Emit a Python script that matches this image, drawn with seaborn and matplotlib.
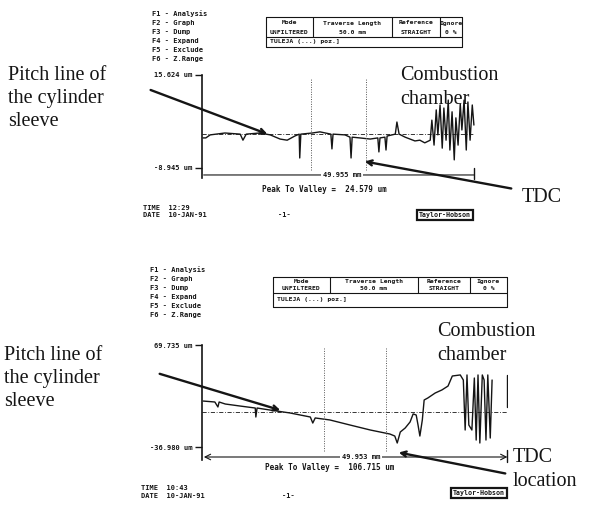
import numpy as np
import pandas as pd
import matplotlib.pyplot as plt
import seaborn as sns
from matplotlib.patches import FancyArrowPatch
from matplotlib.lines import Line2D

sns.set_style("white")
plt.rcParams['font.family'] = ['DejaVu Sans Mono']

W, H = 595, 514

# --- data (position mm, height um) ---
top_mm = [0.2, 0.7, 1.5, 4.2, 7.0, 7.5, 8.1, 10.6, 12.5, 14.3, 15.6, 17.0, 17.8, 17.9, 18.1,
          20.2, 21.6, 23.6, 23.8, 24.0, 26.2, 27.1, 27.3, 27.5, 28.9, 30.8, 32.2, 32.4, 32.6,
          33.5, 33.7, 33.9, 35.4, 35.7, 36.1, 37.2, 38.1, 39.0, 39.9, 40.8, 41.8, 42.1, 42.5,
          42.9, 43.2, 43.6, 44.0, 44.3, 44.7, 45.1, 45.4, 45.8, 46.2, 46.5, 46.9, 47.3, 47.6,
          48.0, 48.4, 48.7, 49.1, 49.5, 49.8]
top_um = [-1.0, -1.0, -0.2, 0.3, 0.0, -1.6, 0.0, 0.3, -0.2, -1.3, -1.6, -0.5, 0.0, -6.3, 0.0,
          0.3, 0.6, 0.0, -3.9, 0.0, -0.2, -0.8, -6.3, -0.8, -1.0, -1.3, -1.0, -4.7, -1.0,
          -0.8, -4.2, -0.5, 0.0, 3.2, 0.0, -0.8, -1.3, -1.8, -1.6, -2.3, -1.6, 3.7, -2.9,
          6.4, -0.2, 7.7, -3.7, 6.9, -1.6, 9.0, -4.2, 5.9, -6.8, 4.3, -2.9, 8.0, 1.1,
          9.0, -4.2, 8.5, -1.6, 7.7, 2.4]

bot_mm = [0.2, 2.1, 2.6, 2.8, 3.8, 6.2, 8.7, 8.8, 9.0, 11.1, 14.4, 17.7, 18.1, 18.5, 20.9,
          24.2, 27.5, 30.7, 31.5, 31.9, 32.4, 33.2, 34.0, 34.5, 35.0, 35.3, 35.6, 36.0, 36.3,
          36.9, 38.1, 39.2, 40.2, 40.9, 42.2, 42.7, 43.0, 43.3, 43.6, 44.1, 44.5, 44.8, 45.1,
          45.4, 45.8, 46.1, 46.4, 46.7, 47.1, 47.4]
bot_um = [11.1, 10.1, 4.9, 10.1, 8.0, 5.9, 3.8, -5.6, 3.8, 1.7, -1.4, -5.6, -11.9, -6.6, -8.7,
          -14.0, -19.2, -23.4, -25.5, -32.8, -21.3, -17.1, -10.8, -2.4, -3.5, -14.0, -25.5, -8.7, 12.2,
          14.3, 19.5, 22.7, 26.8, 37.3, 38.4, 33.1, -19.2, 38.4, -14.0, -19.2, 35.2, -29.7, 38.4,
          -32.8, 38.4, 33.1, -29.7, 38.4, -27.6, 33.1]
bot_end_mm = [49.9, 49.9]
bot_end_um = [38.4, 4.9]

fkeys = ["F1 - Analysis", "F2 - Graph", "F3 - Dump", "F4 - Expand", "F5 - Exclude", "F6 - Z.Range"]
tbl_head = ["Mode", "Traverse Length", "Reference", "Ignore"]
tbl_vals = ["UNFILTERED", "50.0 mm", "STRAIGHT", "0 %"]
tbl_foot = "TULEJA (...) poz.]"

top_ticks = [15.624, -8.945]
top_ticklabels = ["15.624 um", "-8.945 um"]
bot_ticks = [69.735, -36.980]
bot_ticklabels = ["69.735 um", "-36.980 um"]
top_span, bot_span = "49.955 mm", "49.953 mm"
top_ptv, bot_ptv = "Peak To Valley =  24.579 um", "Peak To Valley =  106.715 um"
top_time, bot_time = "TIME  12:29", "TIME  10:43"
date_txt = "DATE  10-JAN-91"
pitch_lines = ["Pitch line of", "the cylinder", "sleeve"]
comb_lines = ["Combustion", "chamber"]

INK = "#151515"


def fx(x):
    return x / W


def fy(y):
    return 1 - y / H


fig = plt.figure(figsize=(5.95, 5.14), dpi=100)


def txt(x, y, s, size=5, **kw):
    kw.setdefault("va", "center")
    kw.setdefault("fontweight", "bold")
    fig.text(fx(x), fy(y), s, fontsize=size, color=INK, **kw)


def serif(x, y, s):
    txt(x, y, s, size=14.5, family="Liberation Serif", fontweight="normal")


def hline(x0, x1, y, lw=0.8):
    fig.add_artist(Line2D([fx(x0), fx(x1)], [fy(y), fy(y)], color=INK, lw=lw))


def vline(x, y0, y1, lw=0.8):
    fig.add_artist(Line2D([fx(x), fx(x)], [fy(y0), fy(y1)], color=INK, lw=lw))


def arrow(x0, y0, x1, y1):
    fig.add_artist(FancyArrowPatch((fx(x0), fy(y0)), (fx(x1), fy(y1)), transform=fig.transFigure,
                                   arrowstyle="->", mutation_scale=9, lw=1.7, color=INK))


def table(x0, x1, y0, ymid, y1, cols):
    edges = [x0] + cols + [x1]
    hline(x0, x1, y0)
    hline(x0, x1, ymid)
    hline(x0, x1, y1)
    vline(x0, y0, y1)
    vline(x1, y0, y1)
    for c in cols:
        vline(c, y0, ymid)
    r1 = y0 + (ymid - y0) * 0.3
    r2 = y0 + (ymid - y0) * 0.75
    for i in range(4):
        cx = (edges[i] + edges[i + 1]) / 2
        txt(cx, r1, tbl_head[i], size=4.6, ha="center")
        txt(cx, r2, tbl_vals[i], size=4.6, ha="center")
    txt(x0 + 4, (ymid + y1) / 2, tbl_foot, size=4.6, ha="left")


def trace_axes(rect, mm, um, extra, ylim, ticks, ticklabels, span_y, span_txt, span_x, tick_lo, ends):
    ax = fig.add_axes(rect)
    ax.patch.set_alpha(0)
    segs = [pd.DataFrame({"mm": mm, "um": um, "seg": 0})]
    if extra is not None:
        segs.append(pd.DataFrame({"mm": extra[0], "um": extra[1], "seg": 1}))
    df = pd.concat(segs, ignore_index=True)
    sns.lineplot(data=df, x="mm", y="um", units="seg", estimator=None, sort=False,
                 color=INK, lw=1.0, ax=ax, legend=False)
    ax.axhline(0, color=INK, lw=0.6, ls=(0, (5, 2, 1, 2)))
    for v in (20, 30):
        ax.axvline(v, color="#555555", lw=0.7, ls=(0, (1, 1.5)), ymax=0.97, ymin=0.08)
    ax.set_xlim(0, 50)
    ax.set_ylim(*ylim)
    ax.set_xticks([])
    ax.set_yticks(ticks)
    ax.set_yticklabels(ticklabels, fontweight="bold")
    ax.tick_params(axis="y", direction="out", length=5, width=1, labelsize=5, pad=2,
                   colors=INK, left=True)
    for s in ("top", "right", "bottom"):
        ax.spines[s].set_visible(False)
    ax.spines["left"].set_color(INK)
    ax.spines["left"].set_linewidth(1.2)
    ax.set_xlabel("")
    ax.set_ylabel("")
    ax.annotate("", xy=(0.3, span_y), xytext=(49.9, span_y),
                arrowprops=dict(arrowstyle=ends, color=INK, lw=0.8, shrinkA=0, shrinkB=0))
    ax.plot([49.9, 49.9], tick_lo, color=INK, lw=1.0, clip_on=False)
    ax.text(span_x, span_y, span_txt, ha="center", va="center", fontsize=5, color=INK,
            fontweight="bold", bbox=dict(boxstyle="square,pad=0.3", fc="white", ec="none"))
    return ax


# ---------------- top panel ----------------
for i, s in enumerate(fkeys):
    txt(152, 14 + 9 * i, s, size=5)
table(266, 462, 17, 37, 47, [313, 392, 440])
trace_axes([fx(202), fy(178), 273 / W, 103 / H], top_mm, top_um, None,
           (-11.59, 15.624), top_ticks, top_ticklabels, -10.79, top_span, 25.6,
           [-8.9, -11.9], "-")
txt(324, 190, top_ptv, size=5.5, ha="center")
txt(143, 208, top_time)
txt(143, 215, date_txt)
txt(284, 215, "-1-", ha="center")
txt(445, 215, "Taylor-Hobson", size=4.8, ha="center",
    bbox=dict(boxstyle="square,pad=0.35", fc="white", ec=INK, lw=1.6))
for i, s in enumerate(pitch_lines):
    serif(8, 76 + 23 * i, s)
serif(400, 76, comb_lines[0])
serif(400, 99, comb_lines[1])
serif(522, 197, "TDC")
arrow(148, 89, 270, 135)
arrow(514, 189, 362, 161)

# ---------------- bottom panel ----------------
for i, s in enumerate(fkeys):
    txt(150, 270 + 9 * i, s, size=5)
table(273, 507, 277, 293, 307, [330, 418, 470])
trace_axes([fx(202), fy(460), 306 / W, 115 / H], bot_mm, bot_um, (bot_end_mm, bot_end_um),
           (-50.58, 69.735), bot_ticks, bot_ticklabels, -47.44, bot_span, 26.0,
           [-40.0, -52.5], "<->")
txt(330, 467, bot_ptv, size=5.5, ha="center")
txt(141, 488, bot_time)
txt(141, 496, date_txt)
txt(288, 496, "-1-", ha="center")
txt(479, 493, "Taylor-Hobson", size=4.8, ha="center",
    bbox=dict(boxstyle="square,pad=0.35", fc="white", ec=INK, lw=1.6))
for i, s in enumerate(pitch_lines):
    serif(4, 356 + 23 * i, s)
serif(437, 332, comb_lines[0])
serif(437, 355, comb_lines[1])
serif(513, 457, "TDC")
serif(513, 482, "location")
arrow(157, 373, 283, 411)
arrow(508, 474, 396, 452)

fig.savefig("out.png", dpi=100)
